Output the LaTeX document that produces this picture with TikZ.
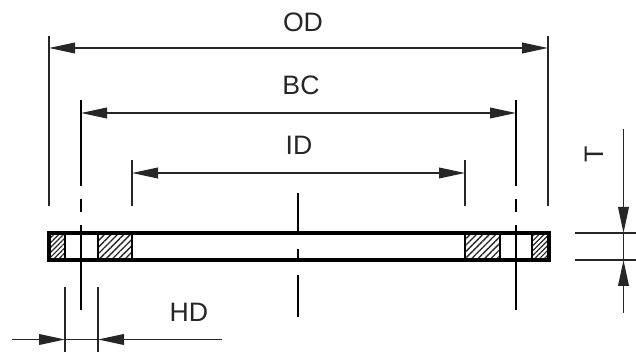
\documentclass[tikz,border=0pt]{standalone}
\usepackage{fontspec}
\setmainfont{Liberation Sans}
\usetikzlibrary{calc,positioning,arrows.meta,patterns.meta}
\tikzset{
  thinline/.style={line width=1.2pt,black!85},
  centerline/.style={line width=1.6pt,black},
  dimline/.style={thinline,{Triangle[length=19.5pt,width=8pt]}-{Triangle[length=19.5pt,width=8pt]}},
  tipend/.style={thinline,-{Triangle[length=19.5pt,width=8pt]}},
  label/.style={inner sep=0pt,font=\fontsize{20}{20}\selectfont,black!85},
  hatchbig/.style={pattern={Lines[angle=45,distance=3.4pt,line width=1pt]},pattern color=black!85},
  hatchsmall/.style={pattern={Lines[angle=45,distance=2.6pt,line width=0.9pt]},pattern color=black!85},
}
\begin{document}
\begin{tikzpicture}[x=0.75pt,y=-0.75pt]
\useasboundingbox (0,0) rectangle (636,352);
% flange section
\coordinate(fl) at(49,233);
\coordinate(fr) at(549,260);
\filldraw[hatchsmall,draw=none](49,233)rectangle(65,260);
\filldraw[hatchbig,draw=none](98,233)rectangle(132,260);
\filldraw[hatchbig,draw=none](465,233)rectangle(500,260);
\filldraw[hatchsmall,draw=none](532,233)rectangle(549,260);
\draw[line width=2.5pt](fl)rectangle(fr);
\foreach \wx in {65,98,132,465,500,532}{
  \draw[line width=2.1pt](\wx,233)--(\wx,260);
}
% center lines
\foreach \cx in {81,516}{
  \draw[centerline](\cx,100)--(\cx,186);
  \draw[centerline](\cx,199)--(\cx,212);
  \draw[centerline](\cx,225)--(\cx,310);
}
\draw[centerline](298,193)--(298,235);
\draw[centerline](298,249)--(298,260);
\draw[centerline](298,275)--(298,317);
% extension lines
\coordinate(oda) at(49,48);
\coordinate(odb) at(548,48);
\coordinate(bca) at(81,113);
\coordinate(bcb) at(516,113);
\coordinate(ida) at(132,173);
\coordinate(idb) at(465,173);
\draw[thinline](49,36)--(49,206);
\draw[thinline](548,36)--(548,206);
\draw[thinline](132,160)--(132,206);
\draw[thinline](465,160)--(465,206);
\draw[thinline](65,287)--(65,352);
\draw[thinline](98,287)--(98,352);
\draw[thinline](575,233)--(636,233);
\draw[thinline](575,260)--(636,260);
% dimensions
\draw[dimline](oda)--(odb);
\draw[dimline](bca)--(bcb);
\draw[dimline](ida)--(idb);
\node[label](od)at(303,22){OD};
\node[label](bc)at(301,85){BC};
\node[label](id)at(299,145){ID};
\node[label](hd)at(189,312){HD};
\node[label,rotate=90](t)at(594.5,154){T};
\coordinate(hl) at(12,339.5);
\coordinate(hla) at(65,339.5);
\coordinate(hr) at(222,339.5);
\coordinate(hra) at(98,339.5);
\coordinate(tt) at(623.5,129);
\coordinate(tta) at(623.5,233);
\coordinate(tb) at(623.5,313);
\coordinate(tba) at(623.5,260);
\draw[tipend](hl)--(hla);
\draw[tipend](hr)--(hra);
\draw[thinline](hla)--(hra);
\draw[tipend](tt)--(tta);
\draw[tipend](tb)--(tba);
\draw[thinline](tta)--(tba);
\end{tikzpicture}
\end{document}
